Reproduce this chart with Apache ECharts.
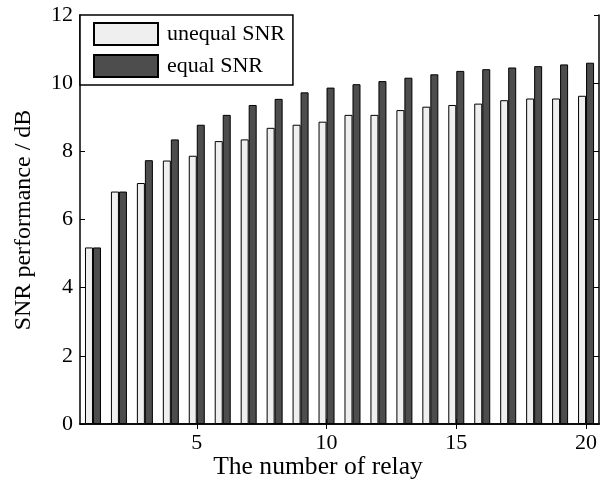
<!DOCTYPE html>
<html>
<head>
<meta charset="utf-8">
<script src="https://cdn.jsdelivr.net/npm/echarts@6/dist/echarts.min.js"></script>
<style>html,body{margin:0;padding:0;background:#fff;}#c{width:600px;height:479px;}</style>
</head>
<body>
<div id="c"></div>
<script>
const relays = ['1','2','3','4','5','6','7','8','9','10','11','12','13','14','15','16','17','18','19','20'];
const unequalSNR = [5.18, 6.82, 7.07, 7.73, 7.87, 8.30, 8.35, 8.69, 8.78, 8.87, 9.07, 9.07, 9.21, 9.31, 9.36, 9.40, 9.50, 9.55, 9.55, 9.63];
const equalSNR   = [5.18, 6.82, 7.74, 8.35, 8.78, 9.07, 9.36, 9.54, 9.73, 9.87, 9.97, 10.06, 10.16, 10.26, 10.36, 10.41, 10.46, 10.50, 10.55, 10.60];
const yTicks = [0, 2, 4, 6, 8, 10, 12];
const xShown = ['5', '10', '15', '20'];

const FONT = '"Liberation Serif", "Times New Roman", serif';
const chart = echarts.init(document.getElementById('c'), null, {renderer: 'canvas'});
const showIdx = (i, v) => xShown.indexOf(v) >= 0;
const axisLine = {show: true, lineStyle: {color: '#000', width: 1.5}};
chart.setOption({
  animation: false,
  backgroundColor: '#fff',
  grid: {left: 80, right: -1, top: 15, bottom: 55, containLabel: false},
  legend: {
    orient: 'vertical', left: 80, top: 15,
    padding: [7, 8, 7, 13],
    icon: 'rect',
    itemWidth: 64, itemHeight: 22, itemGap: 8,
    backgroundColor: '#fff', borderColor: '#000', borderWidth: 1.5,
    textStyle: {fontFamily: FONT, fontSize: 22, color: '#000', padding: [0, 0, 0, 4]},
    data: ['unequal SNR', 'equal SNR']
  },
  xAxis: [{
    type: 'category', data: relays, boundaryGap: true,
    axisLine: axisLine,
    axisTick: {show: true, inside: true, alignWithLabel: true, length: 5, interval: showIdx, lineStyle: {color: '#000', width: 1}},
    axisLabel: {interval: showIdx, fontFamily: FONT, fontSize: 22, color: '#000', margin: 8},
    splitLine: {show: false}
  }, {
    type: 'category', data: relays, boundaryGap: true, position: 'top',
    axisLine: axisLine,
    axisTick: {show: true, inside: true, alignWithLabel: true, length: 5, interval: showIdx, lineStyle: {color: '#000', width: 1}},
    axisLabel: {show: false}, splitLine: {show: false}
  }],
  yAxis: [{
    type: 'value', min: yTicks[0], max: yTicks[yTicks.length - 1], interval: 2,
    axisLine: axisLine,
    axisTick: {show: true, inside: true, length: 5, lineStyle: {color: '#000', width: 1}},
    axisLabel: {fontFamily: FONT, fontSize: 22, color: '#000', margin: 7},
    splitLine: {show: false}
  }, {
    type: 'value', min: yTicks[0], max: yTicks[yTicks.length - 1], interval: 2, position: 'right',
    axisLine: axisLine,
    axisTick: {show: true, inside: true, length: 5, lineStyle: {color: '#000', width: 1}},
    axisLabel: {show: false}, splitLine: {show: false}
  }],
  series: [{
    name: 'unequal SNR', type: 'bar', data: unequalSNR, barWidth: 8, barGap: '0%',
    itemStyle: {color: '#efefef', borderColor: '#000', borderWidth: 1}
  }, {
    name: 'equal SNR', type: 'bar', data: equalSNR, barWidth: 8, barGap: '0%',
    itemStyle: {color: '#4d4d4d', borderColor: '#000', borderWidth: 1}
  }],
  graphic: [{
    type: 'text', x: 318, y: 467,
    style: {text: 'The number of relay', align: 'center', verticalAlign: 'middle', font: '25.6px ' + FONT, fill: '#000'}
  }, {
    type: 'text', x: 24, y: 220, rotation: Math.PI / 2,
    style: {text: 'SNR performance / dB', align: 'center', verticalAlign: 'middle', font: '24px ' + FONT, fill: '#000'}
  }]
});
</script>
</body>
</html>
